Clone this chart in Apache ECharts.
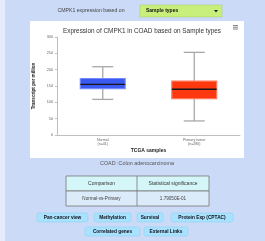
<!DOCTYPE html>
<html>
<head>
<meta charset="utf-8">
<script src="https://cdn.jsdelivr.net/npm/echarts@6/dist/echarts.min.js"></script>
<style>
  html, body { margin: 0; padding: 0; background: #cbdaf6; }
  #chart { width: 265px; height: 241px; }
</style>
</head>
<body>
<div id="chart"></div>
<script>
// chart data
const categories = ['Normal\n(n=41)', 'Primary tumor\n(n=286)'];
const normalStats = [109, 142, 155, 173, 209]; // min, q1, median, q3, max
const tumorStats = [43, 111, 140, 165, 253];
const yMin = 0, yMax = 300, yStep = 50;

// page texts
const geneLabel = 'CMPK1 expression based on';
const selectText = 'Sample types';
const chartTitle = 'Expression of CMPK1 in COAD based on Sample types';
const cancerName = 'COAD :Colon adenocarcinoma';
const tableHeader = ['Comparison', 'Statistical significance'];
const tableRow = ['Normal-vs-Primary', '1.79050E-01'];
const buttonsRow1 = ['Pan-cancer view', 'Methylation', 'Survival', 'Protein Exp (CPTAC)'];
const buttonsRow2 = ['Correlated genes', 'External Links'];

// layout only
const btnPos1 = [[37, 51], [94, 37], [137, 26], [171, 62]];
const btnPos2 = [[85, 55], [144, 44]];
const boxColors = [['#3a5af2', '#7489fb'], ['#ff3810', '#ff7a5c']];
const font = 'Liberation Sans, Arial, sans-serif';

const chart = echarts.init(document.getElementById('chart'), null, { renderer: 'canvas' });

function buttons(list, pos, y) {
    return list.map(function (t, i) {
        return {
            type: 'group', x: pos[i][0], y: y,
            children: [
                { type: 'rect', shape: { x: 0, y: 0, width: pos[i][1], height: 9, r: 2 },
                  style: { fill: '#a8e2fd', stroke: '#8fd3f7', lineWidth: 0.6 } },
                { type: 'text', x: pos[i][1] / 2, y: 4.6,
                  style: { text: t, font: 'bold 4.8px ' + font, fill: '#10101e', align: 'center', verticalAlign: 'middle' } }
            ]
        };
    });
}

const graphics = [
    // left light margin
    { type: 'rect', shape: { x: 0, y: 0, width: 5, height: 241 }, style: { fill: '#e4ecfb' }, z: -10 },
    // top selector
    { type: 'text', x: 91, y: 11, style: { text: geneLabel, font: '5.2px ' + font, fill: '#444', align: 'center', verticalAlign: 'middle' } },
    { type: 'rect', shape: { x: 140, y: 5, width: 82, height: 12 }, style: { fill: '#c8ee7c', stroke: '#a9cf62', lineWidth: 0.5 } },
    { type: 'text', x: 146, y: 11, style: { text: selectText, font: 'bold 5px ' + font, fill: '#111', verticalAlign: 'middle' } },
    { type: 'polygon', shape: { points: [[214, 10], [218, 10], [216, 12.5]] }, style: { fill: '#222' } },
    // white chart panel
    { type: 'rect', shape: { x: 30, y: 21, width: 214, height: 137 }, style: { fill: '#ffffff' }, z: -5 },
    // export menu icon
    { type: 'group', x: 233, y: 25, children: [
        { type: 'rect', shape: { x: 0, y: 0, width: 5, height: 0.8 }, style: { fill: '#666' } },
        { type: 'rect', shape: { x: 0, y: 1.8, width: 5, height: 0.8 }, style: { fill: '#666' } },
        { type: 'rect', shape: { x: 0, y: 3.6, width: 5, height: 0.8 }, style: { fill: '#666' } }
    ] },
    // cancer name
    { type: 'text', x: 137, y: 164, style: { text: cancerName, font: '5.4px ' + font, fill: '#555', align: 'center', verticalAlign: 'middle' } },
    // table
    { type: 'rect', shape: { x: 66, y: 176, width: 143, height: 15 }, style: { fill: '#d4f6f8', stroke: '#777', lineWidth: 0.8 } },
    { type: 'rect', shape: { x: 66, y: 191, width: 143, height: 15 }, style: { fill: '#dcebfa', stroke: '#777', lineWidth: 0.8 } },
    { type: 'line', shape: { x1: 137, y1: 176, x2: 137, y2: 206 }, style: { stroke: '#777', lineWidth: 0.8 } },
    { type: 'text', x: 101.5, y: 183.5, style: { text: tableHeader[0], font: '5px ' + font, fill: '#333', align: 'center', verticalAlign: 'middle' } },
    { type: 'text', x: 173, y: 183.5, style: { text: tableHeader[1], font: '5px ' + font, fill: '#333', align: 'center', verticalAlign: 'middle' } },
    { type: 'text', x: 101.5, y: 198.5, style: { text: tableRow[0], font: '4.6px ' + font, fill: '#444', align: 'center', verticalAlign: 'middle' } },
    { type: 'text', x: 173, y: 198.5, style: { text: tableRow[1], font: '4.6px ' + font, fill: '#444', align: 'center', verticalAlign: 'middle' } }
].concat(buttons(buttonsRow1, btnPos1, 213), buttons(buttonsRow2, btnPos2, 227));

const boxData = [[0].concat(normalStats), [1].concat(tumorStats)];

const option = {
    backgroundColor: '#cbdaf6',
    animation: false,
    textStyle: { fontFamily: font },
    title: {
        text: chartTitle,
        left: 137, top: 23, textAlign: 'center',
        textStyle: { fontSize: 6.4, fontWeight: 'normal', color: '#333' }
    },
    grid: { left: 57, right: 25, top: 37, bottom: 106 },
    xAxis: {
        type: 'category',
        data: categories,
        name: 'TCGA samples',
        nameLocation: 'middle',
        nameGap: 13,
        nameTextStyle: { fontSize: 5, fontWeight: 'bold', color: '#222' },
        axisLine: { lineStyle: { color: '#c0c0c0', width: 1 } },
        axisTick: { show: false },
        axisLabel: { fontSize: 3.6, color: '#666', lineHeight: 4.2, margin: 3 }
    },
    yAxis: {
        type: 'value',
        min: yMin, max: yMax, interval: yStep,
        name: 'Transcript per million',
        nameLocation: 'middle',
        nameGap: 19,
        nameTextStyle: { fontSize: 4.6, fontWeight: 'bold', color: '#222' },
        axisLine: { show: true, lineStyle: { color: '#c0c0c0' } },
        axisTick: { show: true, length: 2, lineStyle: { color: '#c0c0c0' } },
        axisLabel: { fontSize: 3.8, color: '#666', margin: 4 },
        splitLine: { show: false }
    },
    series: [{
        type: 'custom',
        data: boxData,
        encode: { x: 0, y: [1, 2, 3, 4, 5] },
        renderItem: function (params, api) {
            const c = api.value(0);
            const band = api.size([1, 0])[0];
            const boxW = band * 0.49;
            const capW = band * 0.23;
            const pMin = api.coord([c, api.value(1)]);
            const pQ1 = api.coord([c, api.value(2)]);
            const pMed = api.coord([c, api.value(3)]);
            const pQ3 = api.coord([c, api.value(4)]);
            const pMax = api.coord([c, api.value(5)]);
            const x = pMin[0];
            const col = boxColors[params.dataIndex];
            const whisker = { stroke: '#a8a8a8', lineWidth: 1.3 };
            return {
                type: 'group',
                children: [
                    { type: 'line', shape: { x1: x, y1: pMax[1], x2: x, y2: pMin[1] }, style: whisker },
                    { type: 'line', shape: { x1: x - capW / 2, y1: pMax[1], x2: x + capW / 2, y2: pMax[1] }, style: whisker },
                    { type: 'line', shape: { x1: x - capW / 2, y1: pMin[1], x2: x + capW / 2, y2: pMin[1] }, style: whisker },
                    { type: 'rect', shape: { x: x - boxW / 2, y: pQ3[1], width: boxW, height: pQ1[1] - pQ3[1] },
                      style: { fill: col[0], stroke: col[1], lineWidth: 1.2 } },
                    { type: 'line', shape: { x1: x - boxW / 2, y1: pMed[1], x2: x + boxW / 2, y2: pMed[1] },
                      style: { stroke: '#151515', lineWidth: 1.3 } }
                ]
            };
        }
    }],
    graphic: graphics
};

chart.setOption(option);
</script>
</body>
</html>
